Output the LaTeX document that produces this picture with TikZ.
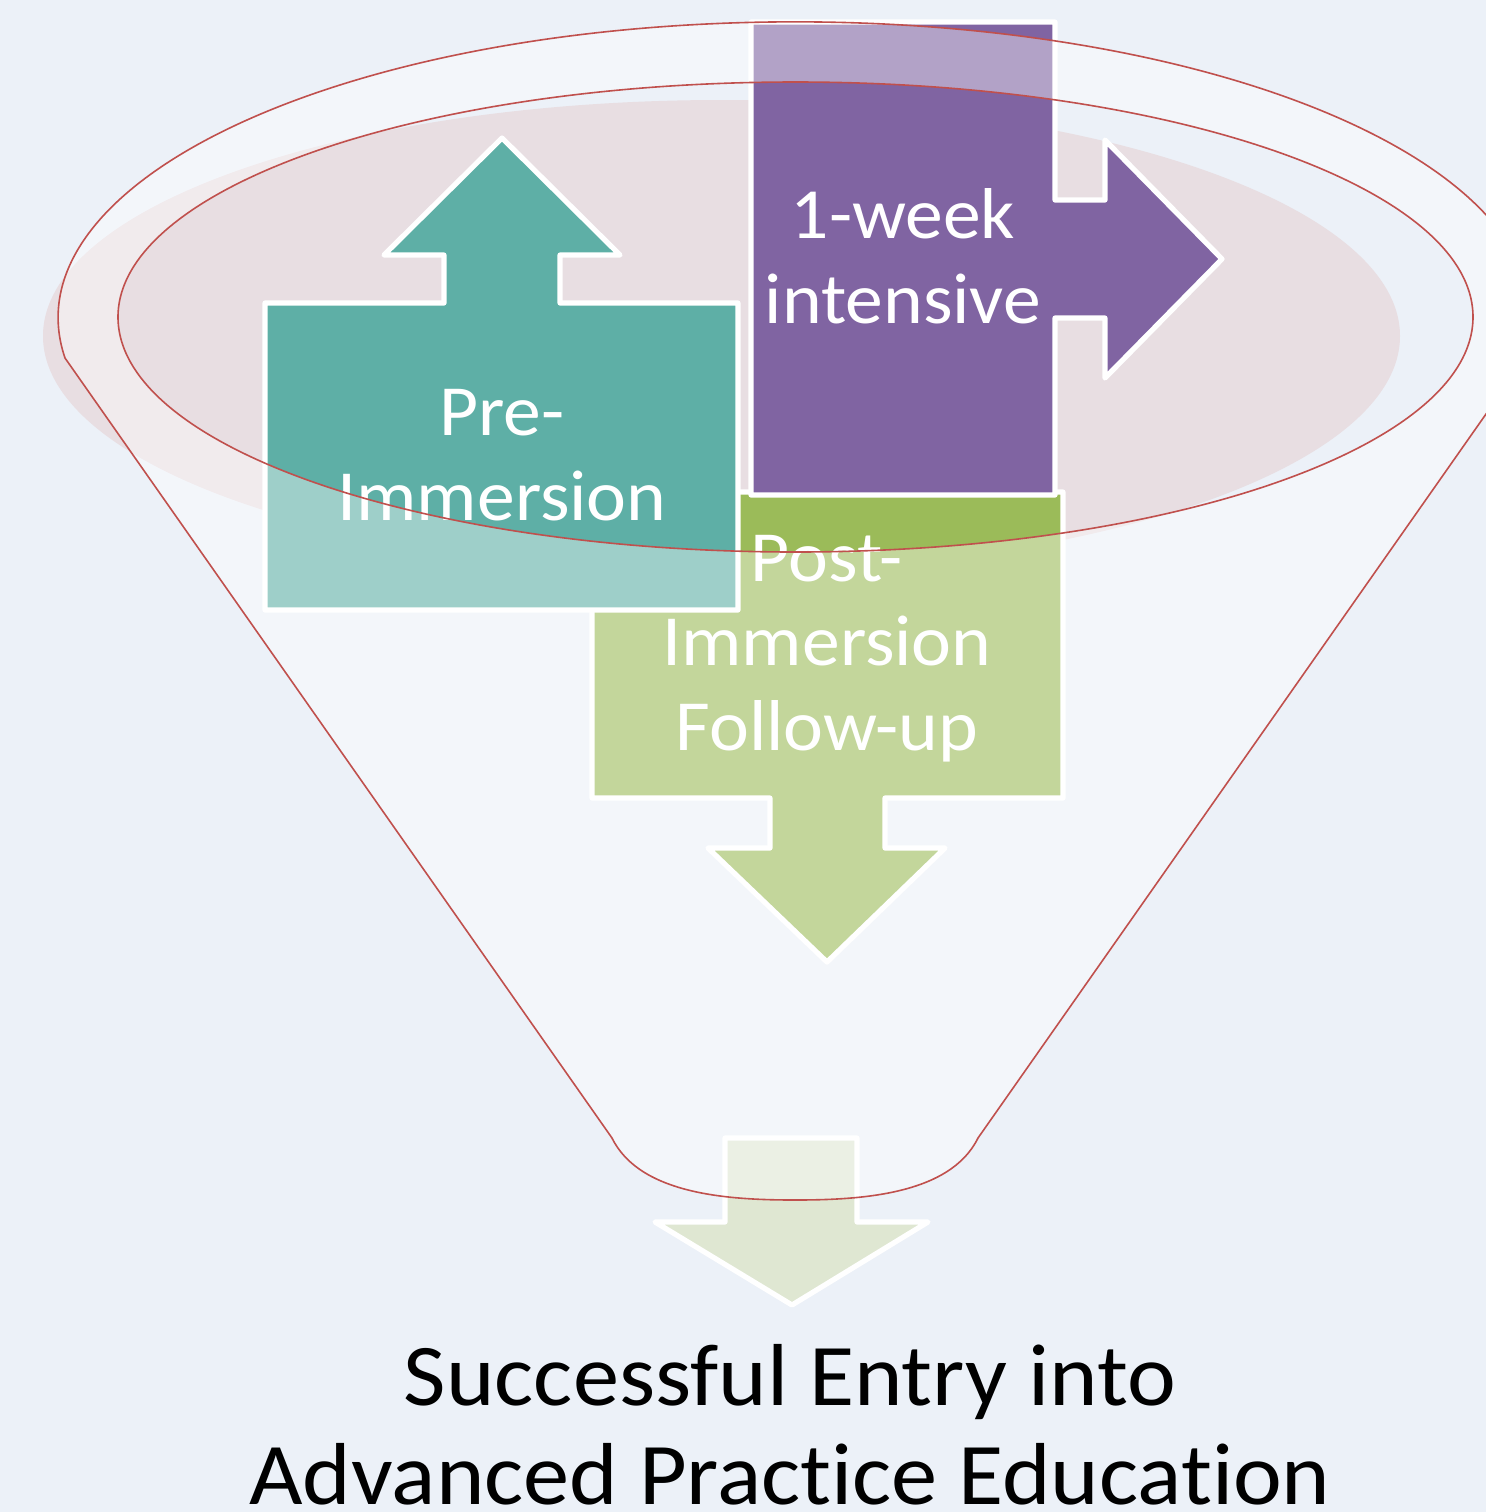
\documentclass[tikz,border=0pt]{standalone}
\usepackage{fontspec}
\setmainfont{Carlito}[Ligatures=NoCommon, FakeStretch=1.05]
\definecolor{bgcol}{HTML}{ECF1F8}
\definecolor{pinkcol}{HTML}{E8DEE2}
\definecolor{redcol}{HTML}{C0504D}
\definecolor{tealcol}{HTML}{5EAFA6}
\definecolor{purplecol}{HTML}{8064A2}
\definecolor{greencol}{HTML}{9BBB59}
\definecolor{palegreen}{HTML}{DFE7D2}
\tikzset{
  arrowshape/.style={draw=white, line width=2.6pt, line join=round},
  lbl/.style={text=white, font=\fontsize{36}{42.25}\selectfont, align=center, inner sep=0pt},
  bottomlbl/.style={text=black, font=\fontsize{44}{49.5}\selectfont, align=center, inner sep=0pt},
  funnelline/.style={draw=redcol, line width=0.8pt},
}
\begin{document}
\begin{tikzpicture}[x=0.5pt, y=-0.5pt]
\useasboundingbox (0,0) rectangle (1486,1512);
\fill[bgcol] (0,0) rectangle (1486,1512);
% pink shadow ellipse
\fill[pinkcol] (721.5,336) ellipse [x radius=678.5, y radius=236];
% green down arrow
\path[arrowshape, fill=greencol] (592,492) -- (1063,492) -- (1063,798) -- (885,798) -- (885,848) -- (945,848) -- (827,962) -- (708,848) -- (770,848) -- (770,798) -- (592,798) -- cycle;
\node[lbl, anchor=base] (post) at (827,750) {Post-\\Immersion\\Follow-up};
% teal up arrow
\path[arrowshape, fill=tealcol] (265,303) -- (444,303) -- (444,255) -- (384,255) -- (502,138) -- (620,255) -- (560,255) -- (560,303) -- (738,303) -- (738,610) -- (265,610) -- cycle;
\node[lbl, anchor=base] (pre) at (502,520) {Pre-\\Immersion};
% purple right arrow
\path[arrowshape, fill=purplecol] (751,22) -- (1055,22) -- (1055,200) -- (1105,200) -- (1105,140) -- (1222,259) -- (1105,378) -- (1105,318) -- (1055,318) -- (1055,495) -- (751,495) -- cycle;
\node[lbl, anchor=base] (week) at (903,323) {1-week\\intensive};
% bottom arrow
\path[arrowshape, fill=palegreen] (725,1138) -- (857,1138) -- (857,1222) -- (928,1222) -- (792,1305) -- (655,1222) -- (725,1222) -- cycle;
% funnel body
\path[funnelline, fill=white, fill opacity=0.4, even odd rule]
  (65,358) arc[start angle=172.2, end angle=367.8, x radius=737, y radius=296]
  -- (978,1138) .. controls (950,1195) and (860,1200) .. (795,1200)
  .. controls (730,1200) and (640,1195) .. (612,1138) -- cycle
  (795.5,317) ellipse [x radius=677.5, y radius=235];
\node[bottomlbl, anchor=base] (goal) at (790,1504) {Successful Entry into\\Advanced Practice Education};
\end{tikzpicture}
\end{document}
